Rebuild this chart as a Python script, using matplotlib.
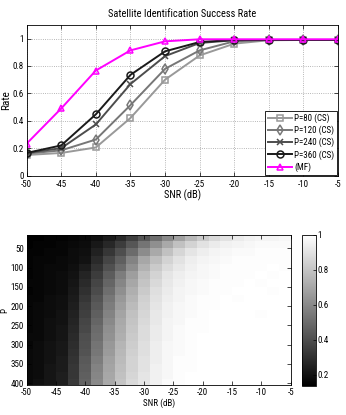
import numpy as np
import matplotlib
matplotlib.use('Agg')
import matplotlib.pyplot as plt

plt.rcParams['font.family'] = ['Roboto Condensed', 'DejaVu Sans']
plt.rcParams['font.size'] = 6.5
plt.rcParams['axes.unicode_minus'] = False

# ---- data: success rate vs SNR
snr = [-50, -45, -40, -35, -30, -25, -20, -15, -10, -5]
rate_p80 = [0.15, 0.165, 0.205, 0.42, 0.70, 0.877, 0.963, 0.988, 0.99, 0.99]
rate_p120 = [0.16, 0.184, 0.263, 0.514, 0.779, 0.914, 0.98, 0.99, 0.99, 0.99]
rate_p240 = [0.165, 0.20, 0.373, 0.668, 0.872, 0.968, 0.988, 0.99, 0.99, 0.99]
rate_p360 = [0.165, 0.22, 0.447, 0.735, 0.907, 0.975, 0.99, 0.99, 0.99, 0.99]
rate_mf = [0.233, 0.49, 0.767, 0.914, 0.98, 0.995, 0.995, 0.995, 0.995, 0.995]
series_labels = ['P=80 (CS)', 'P=120 (CS)', 'P=240 (CS)', 'P=360 (CS)', '(MF)']

# ---- data: heatmap (rows = P, cols = SNR)
heat_snr = [-50, -48, -46, -44, -42, -40, -38, -36, -34, -32, -30, -28,
            -26, -24, -22, -20, -18, -16, -14, -12, -10, -8, -6]
heat_p = [20, 40, 60, 80, 100, 120, 140, 160, 180, 200,
          220, 240, 260, 280, 300, 320, 340, 360, 380, 400]
heat_rate = [
    [.14, .14, .15, .15, .16, .17, .19, .23, .28, .35, .43, .51, .60, .68, .76, .82, .87, .90, .93, .95, .96, .96, .97],
    [.14, .15, .15, .16, .17, .18, .22, .27, .34, .43, .53, .62, .71, .79, .85, .90, .93, .95, .96, .97, .98, .98, .98],
    [.15, .15, .16, .16, .18, .19, .25, .32, .40, .50, .61, .71, .79, .86, .91, .94, .96, .97, .98, .98, .99, .99, .99],
    [.15, .16, .16, .17, .18, .20, .28, .37, .46, .58, .70, .78, .85, .90, .94, .96, .97, .98, .99, .99, .99, .99, .99],
    [.15, .16, .17, .17, .19, .23, .31, .41, .50, .62, .74, .82, .88, .92, .95, .97, .98, .99, .99, .99, .99, 1.0, .99],
    [.15, .16, .17, .18, .20, .26, .34, .45, .56, .67, .78, .85, .91, .94, .96, .97, .98, .99, .99, .99, 1.0, .99, 1.0],
    [.16, .16, .17, .18, .21, .28, .37, .48, .59, .70, .80, .87, .92, .95, .97, .98, .99, .99, .99, 1.0, .99, 1.0, 1.0],
    [.15, .16, .17, .18, .22, .30, .39, .51, .62, .73, .82, .89, .93, .96, .97, .98, .99, .99, 1.0, 1.0, 1.0, .99, 1.0],
    [.16, .16, .18, .19, .23, .32, .42, .54, .65, .75, .84, .90, .94, .96, .98, .99, .99, 1.0, .99, 1.0, 1.0, 1.0, 1.0],
    [.16, .17, .18, .19, .24, .34, .44, .56, .67, .77, .85, .91, .95, .97, .98, .99, .99, 1.0, 1.0, 1.0, 1.0, 1.0, 1.0],
    [.16, .17, .18, .20, .25, .35, .46, .58, .69, .79, .86, .92, .95, .97, .98, .99, 1.0, 1.0, 1.0, 1.0, .99, 1.0, 1.0],
    [.16, .17, .19, .20, .26, .37, .48, .60, .71, .80, .87, .92, .96, .97, .99, .99, 1.0, 1.0, 1.0, 1.0, 1.0, 1.0, 1.0],
    [.16, .17, .19, .21, .27, .38, .50, .62, .72, .81, .88, .93, .96, .98, .99, .99, 1.0, 1.0, 1.0, 1.0, 1.0, 1.0, 1.0],
    [.17, .17, .19, .21, .28, .40, .51, .63, .73, .82, .88, .93, .96, .98, .99, 1.0, 1.0, 1.0, 1.0, 1.0, 1.0, 1.0, 1.0],
    [.16, .18, .20, .22, .29, .41, .53, .65, .75, .83, .89, .94, .97, .98, .99, 1.0, 1.0, 1.0, 1.0, 1.0, 1.0, 1.0, 1.0],
    [.17, .18, .20, .22, .30, .42, .54, .66, .76, .84, .89, .94, .97, .98, .99, 1.0, 1.0, 1.0, 1.0, 1.0, 1.0, 1.0, 1.0],
    [.17, .18, .20, .23, .31, .44, .56, .68, .77, .85, .90, .94, .97, .99, .99, 1.0, 1.0, 1.0, 1.0, 1.0, 1.0, 1.0, 1.0],
    [.17, .18, .21, .23, .32, .45, .58, .69, .78, .85, .90, .95, .97, .99, .99, 1.0, 1.0, 1.0, 1.0, 1.0, 1.0, 1.0, 1.0],
    [.17, .18, .21, .24, .32, .46, .59, .70, .79, .86, .91, .95, .97, .99, 1.0, 1.0, 1.0, 1.0, 1.0, 1.0, 1.0, 1.0, 1.0],
    [.17, .19, .21, .24, .33, .47, .60, .71, .80, .87, .91, .95, .98, .99, 1.0, 1.0, 1.0, 1.0, 1.0, 1.0, 1.0, 1.0, 1.0],
]

fig = plt.figure(figsize=(3.46, 4.15), dpi=100)

# ---- top: line plot
ax = fig.add_axes([0.077, 0.577, 0.900, 0.363])
styles = [
    dict(color='#999999', marker='s'),
    dict(color='#777777', marker='d'),
    dict(color='#4d4d4d', marker='x'),
    dict(color='#1a1a1a', marker='o'),
    dict(color='#ff00ff', marker='^'),
]
for ys, st, lab in zip([rate_p80, rate_p120, rate_p240, rate_p360, rate_mf],
                       styles, series_labels):
    ax.plot(snr, ys, color=st['color'], marker=st['marker'], lw=1.4,
            ms=5, mfc='none', mec=st['color'], mew=1.1, label=lab)

ax.set_xlim(-50, -5)
ax.set_ylim(0, 1.1)
ax.set_xticks(snr)
ax.set_yticks([0, 0.2, 0.4, 0.6, 0.8, 1])
ax.set_yticklabels(['0', '0.2', '0.4', '0.6', '0.8', '1'])
ax.grid(True, ls=':', color='#a0a0a0', lw=0.6)
ax.tick_params(direction='in', top=True, right=True, length=3, width=0.5,
               pad=2)
ax.tick_params(axis='x', pad=3.5)
for s in ax.spines.values():
    s.set_linewidth(0.6)
ax.set_title('Satellite Identification Success Rate', fontsize=7.5, pad=6)
ax.set_xlabel('SNR (dB)', fontsize=7.5, labelpad=0)
ax.set_ylabel('Rate', fontsize=8)
ax.yaxis.set_label_coords(-0.05, 0.5)
leg = ax.legend(loc='lower right', fontsize=6.5, handlelength=2.6,
                borderpad=0.3, labelspacing=0.3, handletextpad=0.3,
                fancybox=False, framealpha=1, edgecolor='black',
                borderaxespad=0.1)
leg.get_frame().set_linewidth(0.6)

# ---- bottom: heatmap
ax2 = fig.add_axes([0.077, 0.072, 0.763, 0.362])
x_edges = np.append(np.array(heat_snr) - 1, heat_snr[-1] + 1)
y_edges = np.append(np.array(heat_p) - 10, heat_p[-1] + 10)
mesh = ax2.pcolormesh(x_edges, y_edges, np.array(heat_rate), cmap='gray',
                      vmin=0.137, vmax=1.0, shading='flat')
ax2.set_xlim(-50, -5)
ax2.set_ylim(405, 15)
ax2.set_xticks(snr)
ax2.set_yticks([50, 100, 150, 200, 250, 300, 350, 400])
ax2.tick_params(direction='in', top=True, right=True, length=3, width=0.5,
                pad=2)
for s in ax2.spines.values():
    s.set_linewidth(0.6)
ax2.set_xlabel('SNR (dB)', fontsize=6.5, labelpad=1)
ax2.set_ylabel('P', fontsize=6.5)
ax2.yaxis.set_label_coords(-0.065, 0.5)

cax = fig.add_axes([0.872, 0.070, 0.041, 0.364])
cb = fig.colorbar(mesh, cax=cax)
cb.set_ticks([0.2, 0.4, 0.6, 0.8, 1.0])
cb.set_ticklabels(['0.2', '0.4', '0.6', '0.8', '1'])
cax.tick_params(direction='in', length=2, width=0.5, pad=1)
cb.outline.set_linewidth(0.6)

fig.savefig('out.png', dpi=100)
